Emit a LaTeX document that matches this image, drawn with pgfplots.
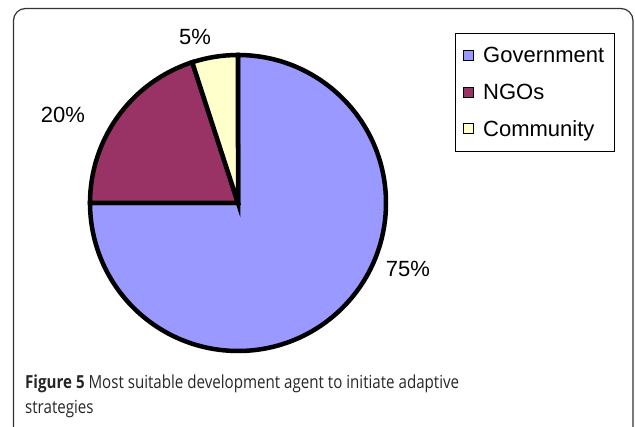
\documentclass[border=0pt]{standalone}
\usepackage{pgfplots}
\pgfplotsset{compat=1.18}
\usepackage{pgfplotstable}
\usepackage{fontspec}
\setmainfont{Liberation Sans}
\newfontfamily\capfont[FakeStretch=0.84]{Open Sans}
\definecolor{gov}{HTML}{9999FF}
\definecolor{ngo}{HTML}{993366}
\definecolor{com}{HTML}{FFFFCC}
\pgfplotstableread{
label value
Government 75
NGOs 20
Community 5
}\piedata
\begin{document}
\pgfplotstablegetelem{0}{value}\of\piedata \let\vA\pgfplotsretval
\pgfplotstablegetelem{1}{value}\of\piedata \let\vB\pgfplotsretval
\pgfplotstablegetelem{2}{value}\of\piedata \let\vC\pgfplotsretval
\begin{tikzpicture}
\begin{axis}[x=1pt,y=1pt,xmin=-150,xmax=150,ymin=-150,ymax=150,hide axis,clip=false,
  legend style={at={(axis cs:217,170)},anchor=north west,draw=black,line width=0.8pt,
    font=\fontsize{22}{26}\selectfont,row sep=15.5pt,inner xsep=8pt,inner ysep=12pt,
    cells={anchor=west},/tikz/every odd column/.append style={column sep=7pt}},
  legend image code/.code={\draw[#1,line width=0.8pt] (0pt,-5pt) rectangle (10pt,5pt);}]
\addlegendimage{fill=gov,draw=black}\addlegendentry{Government}
\addlegendimage{fill=ngo,draw=black}\addlegendentry{NGOs}
\addlegendimage{fill=com,draw=black}\addlegendentry{Community}
% frame
\draw[rounded corners=12pt,line width=1.2pt,black!80]
  (axis cs:-224.5,-240) -- (axis cs:-224.5,194.5) -- (axis cs:395,194.5) -- (axis cs:395,-240);
% slices
\filldraw[fill=gov,line width=4.5pt,line join=miter]
  (axis cs:0,0) -- (axis cs:{148*cos(90)},{148*sin(90)})
  arc[start angle=90,end angle={90-3.6*\vA},radius=148] -- cycle;
\filldraw[fill=ngo,line width=4.5pt,line join=miter]
  (axis cs:0,0) -- (axis cs:{148*cos(90-3.6*\vA)},{148*sin(90-3.6*\vA)})
  arc[start angle={90-3.6*\vA},end angle={90-3.6*(\vA+\vB)},radius=148] -- cycle;
\filldraw[fill=com,line width=4.5pt,line join=miter]
  (axis cs:0,0) -- (axis cs:{148*cos(90-3.6*(\vA+\vB))},{148*sin(90-3.6*(\vA+\vB))})
  arc[start angle={90-3.6*(\vA+\vB)},end angle={90-3.6*(\vA+\vB+\vC)},radius=148] -- cycle;
% labels
\node[font=\fontsize{22}{26}\selectfont] at (axis cs:-43,166) {5\%};
\node[font=\fontsize{22}{26}\selectfont] at (axis cs:-175,88) {20\%};
\node[font=\fontsize{22}{26}\selectfont] at (axis cs:170,-66) {75\%};
% caption
\node[anchor=base west,font=\capfont\fontsize{18}{25}\selectfont,align=left,
  text=black!85,inner sep=0pt] at (axis cs:-213,-211)
  {\textbf{Figure 5} Most suitable development agent to initiate adaptive\\strategies};
\coordinate (bl) at (axis cs:-238,-224);
\coordinate (tr) at (axis cs:397,203);
\end{axis}
\pgfresetboundingbox
\path (bl) rectangle (tr);
\end{tikzpicture}
\end{document}
